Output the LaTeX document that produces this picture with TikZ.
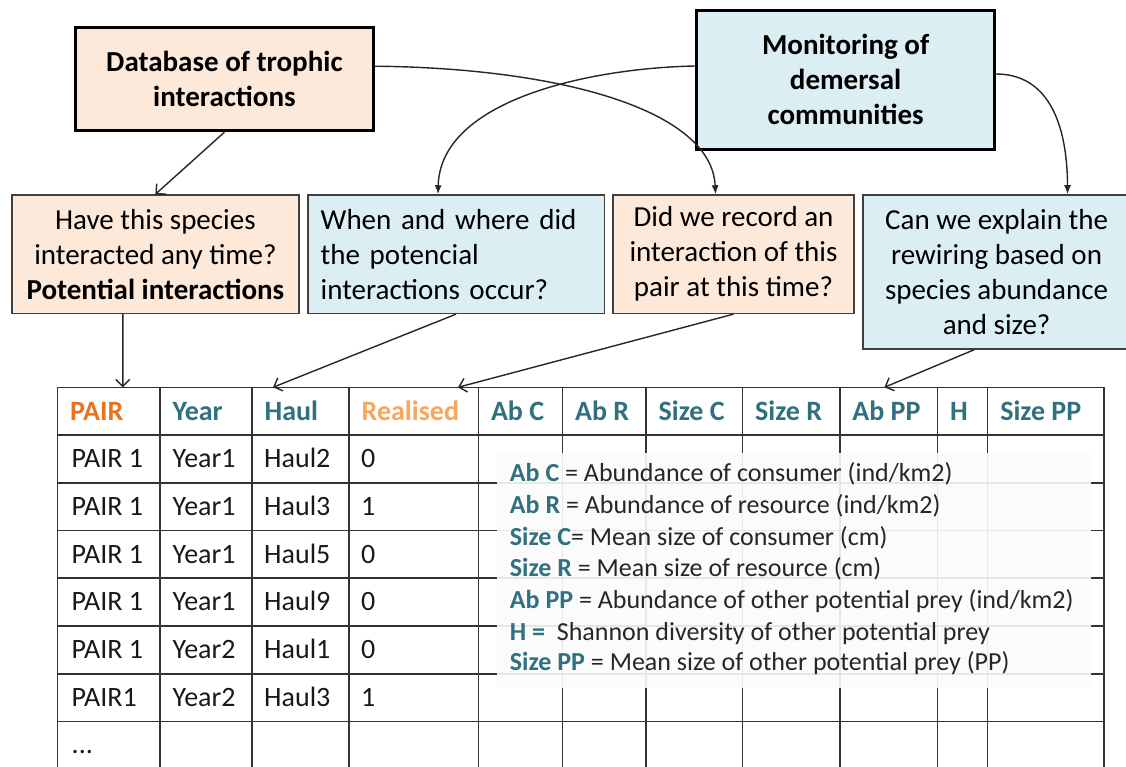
\documentclass[tikz,border=0pt]{standalone}
\usepackage{fontspec}
\setmainfont{Carlito}
\usetikzlibrary{arrows.meta}
\definecolor{peach}{HTML}{FDE9D9}
\definecolor{lblue}{HTML}{DBEEF4}
\definecolor{hdrteal}{HTML}{31707F}
\definecolor{porange}{HTML}{E8731E}
\definecolor{rorange}{HTML}{F9A65A}
\begin{document}
\begin{tikzpicture}[x=1pt,y=-1pt,
 title/.style={draw=black, line width=3pt, font=\bfseries\fontsize{29}{35}\selectfont, align=center, inner sep=0pt},
 qbox/.style={draw=black!75, line width=1.6pt, font=\fontsize{29}{35}\selectfont, inner sep=0pt},
 conn/.style={line width=1.4pt, draw=black!85},
 curvearrow/.style={conn, -{Latex[length=9pt,width=7pt]}},
 straightarrow/.style={conn, -{Straight Barb[length=7pt,width=14pt]}},
 gridline/.style={line width=1.6pt, draw=black!80},
 hdr/.style={anchor=base west, font=\bfseries\fontsize{28}{34}\selectfont, inner sep=0pt},
 cell/.style={anchor=base west, font=\fontsize{28}{34}\selectfont, inner sep=0pt, text=black!90},
 legtxt/.style={anchor=base west, font=\fontsize{26}{31}\selectfont, inner sep=0pt, text=black!85}
]
\useasboundingbox (0,0) rectangle (1126,766);
\fill[white] (0,0) rectangle (1126,766);

% top source boxes
\node[title, fill=peach, minimum width=298pt, minimum height=103pt] (db) at (224.4,79.2) {Database of trophic\\interactions};
\node[title, fill=lblue, minimum width=298pt, minimum height=139pt] (mon) at (845.6,79.5) {Monitoring of\\demersal\\communities};

% question boxes
\node[qbox, fill=peach, minimum width=287.2pt, minimum height=118.3pt, align=center] (q1) at (155.4,254.2) {Have this species\\interacted any time?\\\textbf{Potential interactions}};
\node[qbox, fill=lblue, text width=270.6pt, inner xsep=13pt, minimum height=118.3pt] (q2) at (456,254.2) {\raisebox{-3pt}[\height][\depth]{\begin{tabular}{@{}l@{}}When and where did\\the potencial\\interactions occur?\end{tabular}}};
\node[qbox, fill=peach, minimum width=240.5pt, minimum height=118.3pt, align=center] (q3) at (733.5,254.2) {Did we record an\\interaction of this\\pair at this time?};
\node[qbox, fill=lblue, minimum width=266.8pt, minimum height=154pt, align=center] (q4) at (996.6,272) {Can we explain the\\rewiring based on\\species abundance\\and size?};

% table grid
\foreach \y in {387.3,435,482.7,530.5,578.2,626,673.7,721.4}
  \draw[gridline] (57.5,\y) -- (1104.2,\y);
\foreach \x in {57.5,159.8,252,349,478.3,562.4,646,742.5,839.7,937.4,987.6,1104.2}
  \draw[gridline] (\x,387.3) -- (\x,770);

% header
\foreach \x/\t/\c [count=\i] in {57.5/PAIR/porange,159.8/Year/hdrteal,252/Haul/hdrteal,349/Realised/rorange,478.3/Ab C/hdrteal,562.4/Ab R/hdrteal,646/Size C/hdrteal,742.5/Size R/hdrteal,839.7/Ab PP/hdrteal,937.4/H/hdrteal,987.6/Size PP/hdrteal}
  \node[hdr, text=\c] (h\i) at (\x+12.5,420.3) {\t};

% data rows
\foreach \yb/\a/\b/\c/\d [count=\i] in {467.5/PAIR 1/Year1/Haul2/0,515.2/PAIR 1/Year1/Haul3/1,563/PAIR 1/Year1/Haul5/0,610.7/PAIR 1/Year1/Haul9/0,658.5/PAIR 1/Year2/Haul1/0,706.2/PAIR1/Year2/Haul3/1}{
  \node[cell] (ra\i) at (71.5,\yb) {\a};
  \node[cell] (rb\i) at (172.4,\yb) {\b};
  \node[cell] (rc\i) at (264,\yb) {\c};
  \node[cell] (rd\i) at (361,\yb) {\d};
}
\node[cell] (dots) at (71.5,753.5) {...};

% legend
\fill[white!98.5!black, opacity=0.9] (496.7,453.3) rectangle (1090.6,688.3);
\node[legtxt] (l1) at (509.7,481.7) {\textcolor{hdrteal}{\bfseries Ab C} = Abundance of consumer (ind/km2)};
\node[legtxt] (l2) at (509.7,513.3) {\textcolor{hdrteal}{\bfseries Ab R} = Abundance of resource (ind/km2)};
\node[legtxt] (l3) at (509.7,545.2) {\textcolor{hdrteal}{\bfseries Size C}= Mean size of consumer (cm)};
\node[legtxt] (l4) at (509.7,576.7) {\textcolor{hdrteal}{\bfseries Size R} = Mean size of resource (cm)};
\node[legtxt] (l5) at (509.7,608.5) {\textcolor{hdrteal}{\bfseries Ab PP} = Abundance of other potential prey (ind/km2)};
\node[legtxt] (l6) at (509.7,640) {\textcolor{hdrteal}{\bfseries H =}\ \ Shannon diversity of other potential prey};
\node[legtxt] (l7) at (509.7,670.7) {\textcolor{hdrteal}{\bfseries Size PP} = Mean size of other potential prey (PP)};

% connectors
\coordinate (tA) at (122.8,387.3);
\coordinate (tB) at (273,387.3);
\coordinate (tC) at (458,387.3);
\coordinate (tD) at (884.4,387.3);

\draw[straightarrow] (db.south) -- (q1.north);
\draw[curvearrow] ([yshift=13pt]db.east) .. controls (560,68) and (712,110) .. ([xshift=-18pt]q3.north);
\draw[curvearrow] ([yshift=13.5pt]mon.west) .. controls (590,68) and (440,100) .. ([xshift=-18pt]q2.north);
\draw[curvearrow] ([yshift=5.5pt]mon.east) .. controls (1040,74) and (1067,110) .. ([xshift=71pt]q4.north);

\draw[straightarrow] ([xshift=-32.6pt]q1.south) -- (tA);
\draw[straightarrow] (q2.south) -- (tB);
\draw[straightarrow] (q3.south) -- (tC);
\draw[straightarrow] ([xshift=-22.6pt]q4.south) -- (tD);
\end{tikzpicture}
\end{document}
